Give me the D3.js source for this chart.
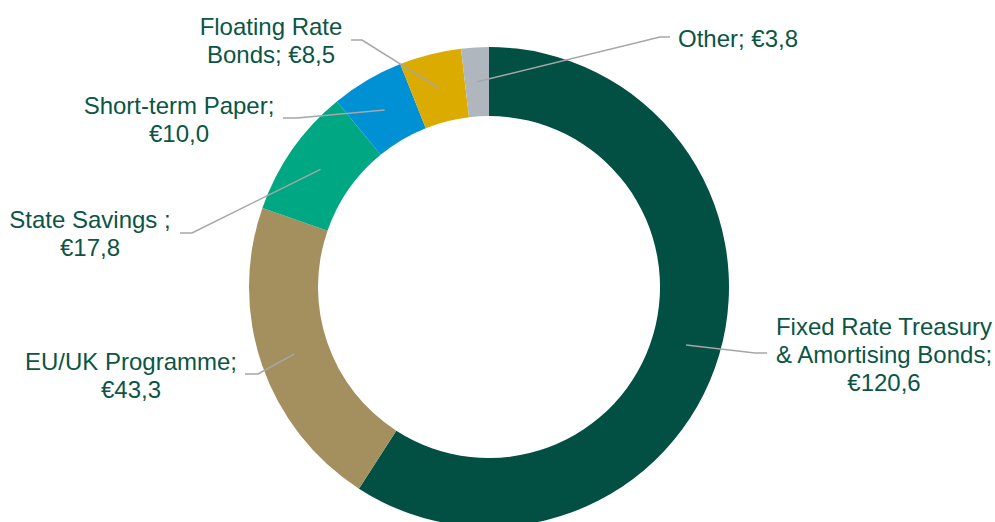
<!DOCTYPE html>
<html>
<head>
<meta charset="utf-8">
<script src="https://cdn.jsdelivr.net/npm/d3@7"></script>
<style>
  body { margin: 0; background: #fff; }
  svg { display: block; font-family: "Liberation Sans", Arial, sans-serif; }
</style>
</head>
<body>
<div id="donut"></div>
<script>
const width = 995;
const height = 522;

// data
const categories = ["Fixed Rate Treasury & Amortising Bonds", "EU/UK Programme", "State Savings", "Short-term Paper", "Floating Rate Bonds", "Other"];
const values = [120.6, 43.3, 17.8, 10.0, 8.5, 3.8];
const labelLines = [
  ["Fixed Rate Treasury", "& Amortising Bonds;", "€120,6"],
  ["EU/UK Programme;", "€43,3"],
  ["State Savings ;", "€17,8"],
  ["Short-term Paper;", "€10,0"],
  ["Floating Rate", "Bonds; €8,5"],
  ["Other; €3,8"]
];
const colors = ["#024f43", "#a3905e", "#00a783", "#0091d5", "#dbab00", "#b0b6bd"];

// label placement (elbow, end of leader, text anchor)
const labelLayout = [
  { elbow: [755, 353], end: [767, 353], x: 884, y: 335, anchor: "middle" },
  { elbow: [258, 374], end: [245, 374], x: 131, y: 370, anchor: "middle" },
  { elbow: [192, 233], end: [180, 233], x: 90, y: 228, anchor: "middle" },
  { elbow: [297, 118], end: [283, 118], x: 179, y: 114, anchor: "middle" },
  { elbow: [362, 40], end: [351, 40], x: 271, y: 35, anchor: "middle" },
  { elbow: [660, 37], end: [670, 37], x: 678, y: 47, anchor: "start" }
];

const cx = 489, cy = 287;
const outerR = 240, innerR = 171;
const lineHeight = 28;

const data = categories.map((c, i) => ({ category: c, value: values[i], lines: labelLines[i], color: colors[i], layout: labelLayout[i] }));

const svg = d3.select("#donut")
  .append("svg")
    .attr("width", width)
    .attr("height", height);

const donut = svg.append("g")
  .attr("transform", `translate(${cx}, ${cy})`);

const pieGenerator = d3.pie()
  .value(d => d.value)
  .sort(null);

const arcGenerator = d3.arc()
  .innerRadius(innerR)
  .outerRadius(outerR);

const arcs = pieGenerator(data);

donut.selectAll(".slice")
  .data(arcs)
  .join("path")
    .attr("class", "slice")
    .attr("d", arcGenerator)
    .attr("fill", d => d.data.color);

// leader lines
svg.selectAll(".leader")
  .data(arcs)
  .join("polyline")
    .attr("class", "leader")
    .attr("points", d => {
      const c = arcGenerator.centroid(d);
      const start = [c[0] + cx, c[1] + cy];
      return [start, d.data.layout.elbow, d.data.layout.end].map(p => p.join(",")).join(" ");
    })
    .attr("fill", "none")
    .attr("stroke", "#a6a6a6")
    .attr("stroke-width", 1.5);

// labels
const labels = svg.selectAll(".label")
  .data(data)
  .join("text")
    .attr("class", "label")
    .attr("x", d => d.layout.x)
    .attr("y", d => d.layout.y)
    .attr("text-anchor", d => d.layout.anchor)
    .attr("fill", "#0b5545")
    .style("font-size", "24px");

labels.selectAll("tspan")
  .data(d => d.lines.map(l => ({ text: l, x: d.layout.x })))
  .join("tspan")
    .attr("x", d => d.x)
    .attr("dy", (d, i) => i === 0 ? 0 : lineHeight)
    .text(d => d.text);
</script>
</body>
</html>
